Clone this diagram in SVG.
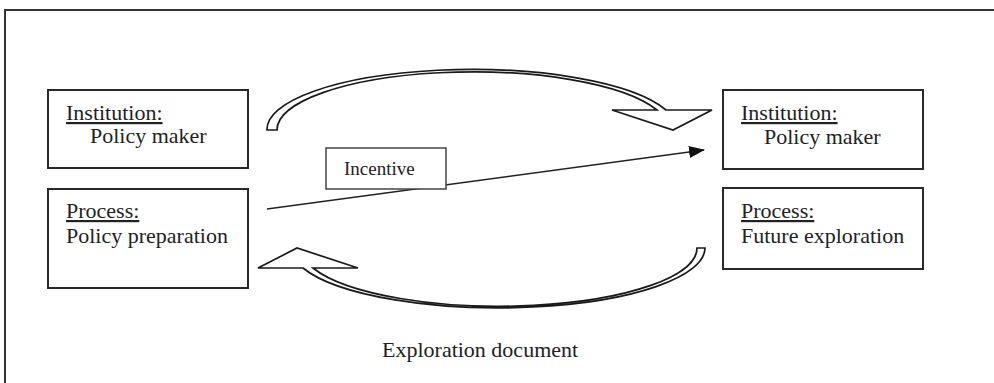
<svg xmlns="http://www.w3.org/2000/svg" width="994" height="383" viewBox="0 0 994 383">
<style>
.box{fill:#fff;stroke:#2a2a2a;stroke-width:2}
.t{font-family:"Liberation Serif","Times New Roman",serif;font-size:22px;fill:#222}
.u{text-decoration:underline}
.ca{fill:#fff;stroke:#1a1a1a;stroke-width:1.7;stroke-linejoin:miter}
</style>
<defs>
<marker id="ah" markerWidth="16" markerHeight="12" refX="15" refY="6" orient="auto" markerUnits="userSpaceOnUse">
<path d="M0,0 L16,6 L0,12 Z" fill="#111"/>
</marker>
</defs>
<rect x="0" y="0" width="994" height="383" fill="#fff"/>
<rect x="5" y="10" width="1010" height="400" fill="none" stroke="#333" stroke-width="2"/>

<g id="connectors">
<path class="ca" d="M267,130 A205,60 0 0 1 666,110 L712,110 L673,130 L612,110 L657,110 A196,58.2 0 0 0 277,130 Z"/>
<path class="ca" d="M705,248 A207,60 0 0 1 303,268 L258,268 L297,248 L358,268 L313,268 A198,58.2 0 0 0 697,248 Z"/>
<line x1="267" y1="209" x2="704" y2="150" stroke="#222" stroke-width="1.6" marker-end="url(#ah)"/>
</g>

<g id="incentive">
<rect x="326" y="148" width="120" height="41" fill="#fff" stroke="#444" stroke-width="1.5"/>
<text class="t" x="344" y="175" style="font-size:19px">Incentive</text>
</g>

<g id="left-institution">
<rect class="box" x="48" y="90" width="200" height="78"/>
<text class="t u" x="66" y="120">Institution:</text>
<text class="t" x="90" y="143">Policy maker</text>
</g>

<g id="left-process">
<rect class="box" x="48" y="189" width="200" height="99"/>
<text class="t u" x="66" y="218">Process:</text>
<text class="t" x="66" y="243">Policy preparation</text>
</g>

<g id="right-institution">
<rect class="box" x="723" y="90" width="200" height="79"/>
<text class="t u" x="741" y="120">Institution:</text>
<text class="t" x="764" y="144">Policy maker</text>
</g>

<g id="right-process">
<rect class="box" x="723" y="188" width="200" height="81"/>
<text class="t u" x="741" y="218">Process:</text>
<text class="t" x="741" y="243">Future exploration</text>
</g>

<g id="caption">
<text class="t" x="382" y="357">Exploration document</text>
</g>
</svg>
